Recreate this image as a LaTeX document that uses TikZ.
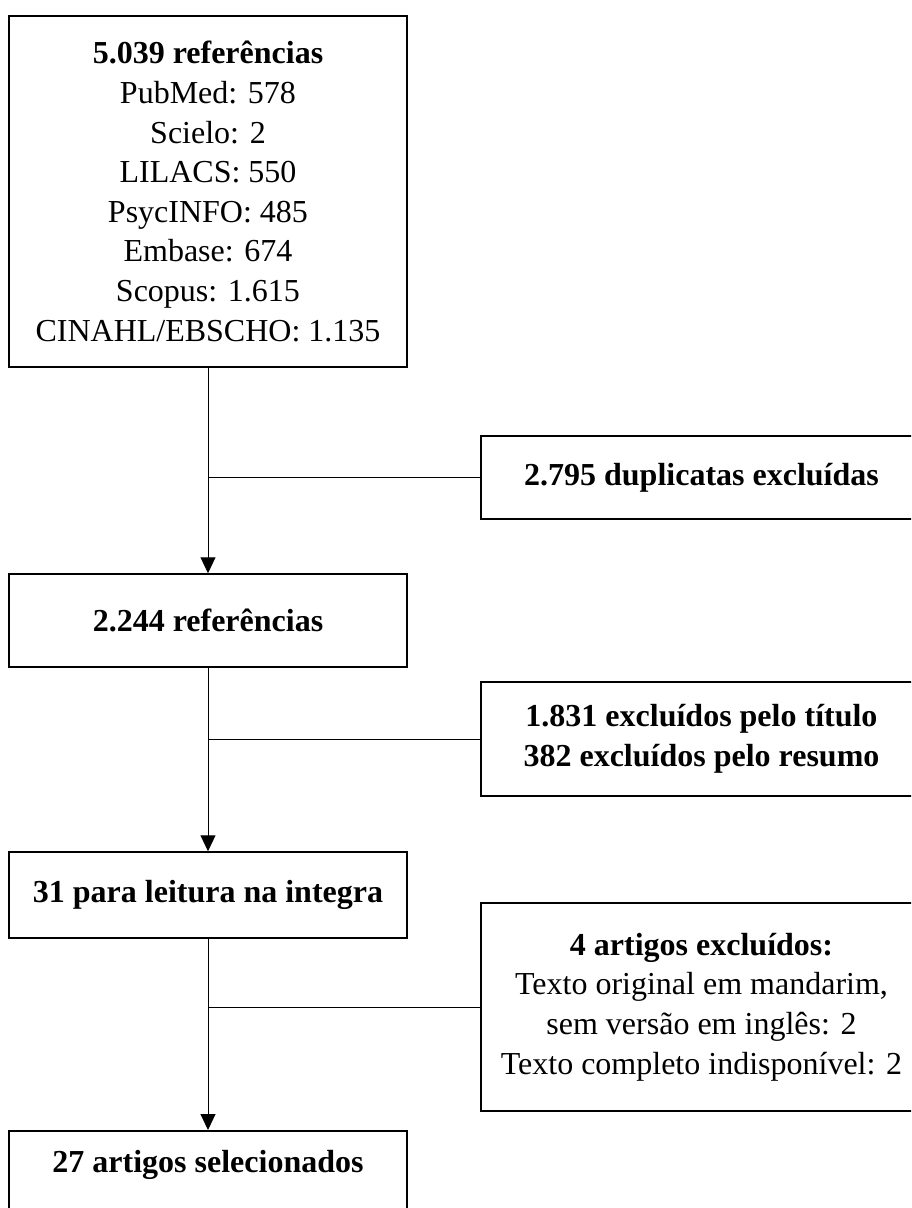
\documentclass[tikz,border=0pt]{standalone}
\usepackage{fontspec}
\setmainfont{Liberation Serif}
\usetikzlibrary{arrows.meta}
\begin{document}
\begin{tikzpicture}[x=1pt,y=-1pt,
  box/.style={draw=black,line width=1.5pt,rectangle,align=center,inner sep=0pt,
    font=\fontsize{32}{39.6}\selectfont},
  leftbox/.style={box,minimum width=398pt},
  rightbox/.style={box,minimum width=441pt},
  conn/.style={line width=1pt,draw=black},
  arr/.style={conn,-{Triangle[length=16pt,width=15pt]}}]
\useasboundingbox (0,0) rectangle (911,1208);
\clip (0,0) rectangle (911,1208);
\node[leftbox,minimum height=351pt] (n1) at (208,191.5) {\bfseries 5.039 referências\\PubMed: 578\\Scielo: 2\\LILACS: 550\\PsycINFO: 485\\Embase: 674\\Scopus: 1.615\\CINAHL/EBSCHO: 1.135};
\node[rightbox,minimum height=83pt] (e1) at (701.5,477.5) {\bfseries 2.795 duplicatas excluídas};
\node[leftbox,minimum height=93pt] (n2) at (208,620.5) {\bfseries 2.244 referências};
\node[rightbox,minimum height=114pt] (e2) at (701.5,739) {\bfseries 1.831 excluídos pelo título\\\bfseries 382 excluídos pelo resumo};
\node[leftbox,minimum height=86pt] (n3) at (208,895) {\bfseries 31 para leitura na integra};
\node[rightbox,minimum height=208pt] (e3) at (701.5,1007) {\bfseries 4 artigos excluídos:\\Texto original em mandarim,\\sem versão em inglês: 2\\Texto completo indisponível: 2};
\node[leftbox,anchor=north,text height=22pt,text depth=60pt,inner ysep=20pt] (n4) at (208,1130) {\bfseries 27 artigos selecionados};
\draw[arr] (n1.south) -- (n2.north);
\draw[arr] (n2.south) -- (n3.north);
\draw[arr] (n3.south) -- (n4.north);
\draw[conn] (e1.west) -- (e1.west -| n1.south);
\draw[conn] (e2.west) -- (e2.west -| n2.south);
\draw[conn] (e3.west) -- (e3.west -| n3.south);
\end{tikzpicture}
\end{document}
